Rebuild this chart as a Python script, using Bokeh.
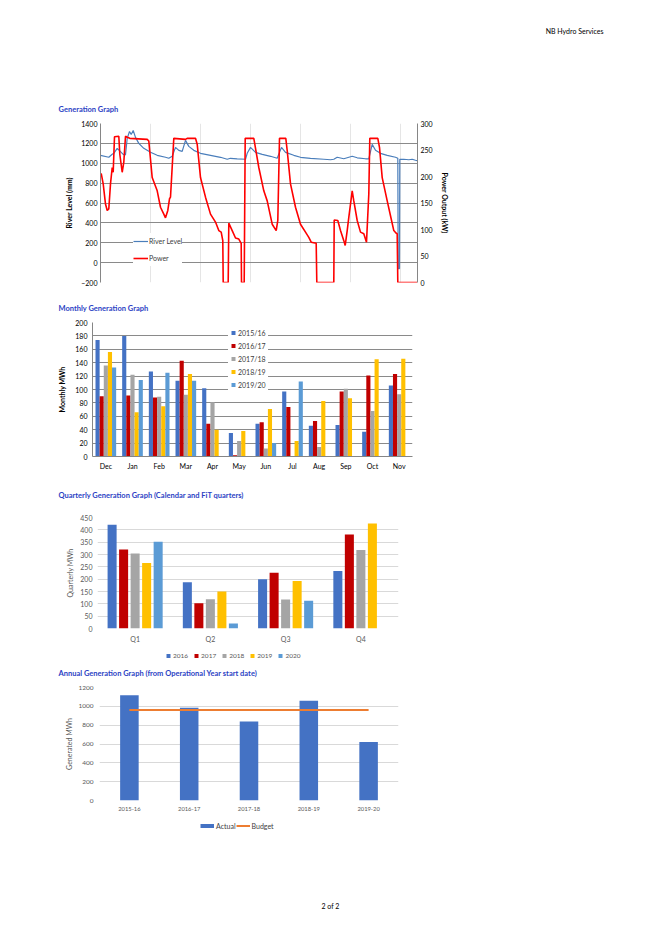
from bokeh.plotting import figure
from bokeh.models import Range1d, LinearAxis, FixedTicker, Legend, LegendItem, ColumnDataSource
from bokeh.layouts import column
from bokeh.transform import dodge
from bokeh.core.properties import value
from bokeh.embed import file_html
from bokeh.resources import INLINE

FONT = "Lato"
TITLE_BLUE = "#2B3FC4"
NAN = float("nan")

# ---------------- Generation graph data ----------------
river_day = [0, 8.3, 11.7, 13.3, 16.7, 22.7, 25, 26.7, 29, 30.7, 32.7, 35, 38.3, 43.3, 50, 56.7,
             65, 68.3, 71.7, 75, 78.3, 81.7, 85, 88.3, 93.3, 100, 110, 120, 126.7, 130, 136.7,
             145, 146.7, 150, 155, 161.7, 170, 176.7, 181, 185, 193.3, 200, 210, 223.3, 230,
             233.3, 236.7, 243.3, 251.7, 256.7, 265, 268.3, 271.7, 275, 280, 286.7, 295, 297.3,
             297.7, 299, 299.3, 303.3, 308.3, 311.7, 315, 316.7]
river_mm = [1080, 1060, 1090, 1100, 1150, 1090, 1085, 1250, 1320, 1290, 1330, 1260, 1200, 1150,
            1110, 1080, 1060, 1050, 1070, 1160, 1130, 1120, 1230, 1170, 1130, 1100, 1080, 1060,
            1040, 1050, 1045, 1040, 1100, 1160, 1110, 1090, 1070, 1050, 1160, 1110, 1080, 1060,
            1050, 1040, 1035, 1040, 1060, 1045, 1070, 1055, 1045, 1045, 1190, 1130, 1100, 1080,
            1060, 1050, -60, -60, 1040, 1040, 1035, 1040, 1030, 1025]
power_day = [0.7, 2.7, 5, 6.7, 8.3, 10, 11.7, 12.7, 14, 18.3, 19.3, 21.7, 23.3, 25, 26.7, 29.3,
             46.7, 48.3, 51.7, 56.7, 60, 63.3, 65, 67.3, 69, 70, 73.3, 85, 86.7, 95, 96.7, 100,
             105, 110, 115, 118.3, 120.7, 122.3, 122.7, 127.7, 128.3, 131.7, 135, 138.3, 140.7,
             141, 143.7, 144.7, 153.3, 154.3, 158.3, 163.3, 166.7, 171.7, 175.7, 177.3, 179,
             185.3, 186.7, 190, 195, 200, 205, 208.3, 210.7, 215.7, 216.3, 233.3, 233.7, 237.3,
             240, 243.3, 244.7, 246.7, 248.3, 250, 251.7, 253.3, 256.7, 260, 263.3, 266, 268.3,
             269.3, 277.3, 279, 281.7, 286.7, 290, 293.3, 295.7, 296.7, 297.3, 316.7]
power_kw = [206, 186, 148, 136, 139, 186, 217, 208, 275, 276, 242, 208, 227, 276, 274, 272,
            270, 267, 198, 173, 142, 129, 122, 136, 158, 161, 272, 270, 272, 272, 261, 198,
            161, 129, 114, 98, 95, 79, 0, 0, 112, 98, 84, 82, 74,
            0, 0, 272, 272, 261, 217, 173, 154, 110, 98, 117, 272,
            272, 249, 186, 142, 110, 95, 85, 76, 74, 0, 0, 118, 117,
            98, 79, 70, 98, 123, 148, 173, 154, 117, 95, 92, 76, 167,
            272, 272, 255, 198, 154, 126, 98, 93, 92, 0, 0]
level_ticks = [-200, 0, 200, 400, 600, 800, 1000, 1200, 1400]
power_ticks = [0, 50, 100, 150, 200, 250, 300]

# ---------------- Monthly data ----------------
months = ["Dec", "Jan", "Feb", "Mar", "Apr", "May", "Jun", "Jul", "Aug", "Sep", "Oct", "Nov"]
monthly_names = ["2015/16", "2016/17", "2017/18", "2018/19", "2019/20"]
m_2015_16 = [174, 180, 127, 113, 102, 35, 49, 97, 46, 47, 37, 106]
m_2016_17 = [90, 91, 88, 143, 49, 2, 51, 74, 53, 97, 121, 123]
m_2017_18 = [136, 122, 89, 92, 81, 23, 12, 0, 14, 101, 68, 93]
m_2018_19 = [156, 66, 75, 123, 40, 38, 71, 23, 83, 87, 145, 146]
m_2019_20 = [133, 114, 125, 113, 0, 0, 20, 112, 0, 0, 0, 0]
monthly_ticks = [0, 20, 40, 60, 80, 100, 120, 140, 160, 180, 200]

# ---------------- Quarterly data ----------------
quarters = ["Q1", "Q2", "Q3", "Q4"]
quarter_names = ["2016", "2017", "2018", "2019", "2020"]
q_2016 = [421, 188, 200, 233]
q_2017 = [320, 102, 226, 381]
q_2018 = [304, 119, 118, 318]
q_2019 = [266, 150, 193, 426]
q_2020 = [352, 20, 112, 0]
quarterly_ticks = [0, 50, 100, 150, 200, 250, 300, 350, 400, 450]

# ---------------- Annual data ----------------
annual_years = ["2015-16", "2016-17", "2017-18", "2018-19", "2019-20"]
annual_actual = [1119, 985, 840, 1059, 621]
annual_budget = [960, 960, 960, 960, 960]
annual_ticks = [0, 200, 400, 600, 800, 1000, 1200]

series_colors = ["#4472C4", "#C00000", "#A5A5A5", "#FFC000", "#5B9BD5"]
W = 643


def strip(h, y_down=True):
    yr = Range1d(h, 0) if y_down else Range1d(0, h)
    p = figure(width=W, height=h, x_range=Range1d(0, W), y_range=yr,
               output_backend="svg", toolbar_location=None,
               x_axis_location=None, y_axis_location=None, min_border=0, frame_align=False)
    p.outline_line_color = None
    p.border_fill_color = "white"
    for g in p.grid:
        g.visible = False
    return p


def text_strip(h, items):
    p = strip(h)
    for (x, y, t, size, style, color, align) in items:
        p.text(x=[x], y=[y], text=[t], text_font=value(FONT), text_font_size=size,
               text_font_style=style, text_color=color, text_align=align,
               text_baseline="middle")
    return p


def style_y(ax, label_color, line_color, bold, label_standoff, axis_standoff, size="7px"):
    ax.major_label_text_font = FONT
    ax.major_label_text_font_size = size
    ax.major_label_text_color = label_color
    ax.axis_label_text_font = FONT
    ax.axis_label_text_font_size = "7px"
    ax.axis_label_text_font_style = "bold" if bold else "normal"
    ax.axis_label_text_color = label_color
    ax.axis_line_color = line_color
    ax.major_tick_line_color = None
    ax.minor_tick_line_color = None
    ax.major_tick_out = 0
    ax.major_tick_in = 0
    ax.major_label_standoff = label_standoff
    ax.axis_label_standoff = axis_standoff


def style_x(ax, label_color, line_color, standoff, size="7px"):
    ax.major_label_text_font = FONT
    ax.major_label_text_font_size = size
    ax.major_label_text_color = label_color
    ax.axis_line_color = line_color
    ax.major_tick_line_color = None
    ax.minor_tick_line_color = None
    ax.major_tick_out = 0
    ax.major_label_standoff = standoff


def base_fig(h, x_range, y_range, left, right, top, bottom, **kw):
    p = figure(width=W, height=h, x_range=x_range, y_range=y_range,
               output_backend="svg", toolbar_location=None, frame_align=False,
               min_border_left=left, min_border_right=right,
               min_border_top=top, min_border_bottom=bottom, **kw)
    p.outline_line_color = None
    p.border_fill_color = "white"
    return p


# ---------------- header ----------------
header = text_strip(100, [(603, 30, "NB Hydro Services", "7px", "normal", "#000000", "right")])

# ---------------- Chart 1 ----------------
t1 = text_strip(17, [(58, 9, "Generation Graph", "7.5px", "bold", TITLE_BLUE, "left")])
p1 = base_fig(183, Range1d(0, 317), Range1d(-200, 1400), 100, 226, 6, 18, x_axis_location=None)
p1.extra_y_ranges = {"power": Range1d(0, 300)}
p1.yaxis.ticker = FixedTicker(ticks=level_ticks)
p1.yaxis.axis_label = "River Level (mm)"
style_y(p1.yaxis[0], "#000000", "#868686", True, 3, 5)
p1.ygrid.grid_line_color = "#8A8A8A"
ax_r = LinearAxis(y_range_name="power", ticker=FixedTicker(ticks=power_ticks),
                  axis_label="Power Output (kW)")
style_y(ax_r, "#000000", "#868686", True, 3, 5)
p1.add_layout(ax_r, "right")
r_river = p1.line(river_day, river_mm, line_color="#4A7EBB", line_width=1.2)
r_power = p1.line(power_day, power_kw, y_range_name="power", line_color="#FF0000", line_width=1.6)
leg1 = Legend(items=[LegendItem(label="River Level", renderers=[r_river]),
                     LegendItem(label="Power", renderers=[r_power])],
              location=(33, 16), padding=10, margin=0, glyph_width=15, glyph_height=16,
              label_height=16, spacing=1, label_standoff=1, border_line_color=None,
              background_fill_color="white", background_fill_alpha=1.0,
              label_text_font=FONT, label_text_font_size="7px", label_text_color="#404040")
p1.add_layout(leg1)

# ---------------- Chart 2 ----------------
t2 = text_strip(16, [(58, 8, "Monthly Generation Graph", "7.5px", "bold", TITLE_BLUE, "left")])
p2 = base_fig(169, months, Range1d(0, 200), 92, 231, 6, 29)
p2.yaxis.ticker = FixedTicker(ticks=monthly_ticks)
p2.yaxis.axis_label = "Monthly MWh"
style_y(p2.yaxis[0], "#000000", "#868686", True, 5, 6)
style_x(p2.xaxis[0], "#000000", "#868686", 5)
p2.xgrid.visible = False
p2.ygrid.grid_line_color = "#8A8A8A"
m_offsets = [-0.31, -0.155, 0, 0.155, 0.31]
m_items = []
for name, vals, col, off in zip(monthly_names, [m_2015_16, m_2016_17, m_2017_18, m_2018_19, m_2019_20],
                                series_colors, m_offsets):
    src = ColumnDataSource(dict(month=months, v=vals))
    p2.vbar(x=dodge("month", off, range=p2.x_range), top="v", width=0.155, source=src,
            fill_color=col, line_color=None)
    key = p2.scatter(x=[months[0]], y=[NAN], marker="square", fill_color=col, line_color=None)
    m_items.append(LegendItem(label=name, renderers=[key]))
leg2 = Legend(items=m_items, location=(136, 65), padding=0, margin=0, glyph_width=10,
              glyph_height=13, label_height=13, label_width=30, spacing=0, label_standoff=0,
              border_line_color=None, background_fill_color="white", background_fill_alpha=1.0,
              label_text_font=FONT, label_text_font_size="7px", label_text_color="#404040")
p2.add_layout(leg2)

# ---------------- Chart 3 ----------------
t3 = text_strip(18, [(58, 10, "Quarterly Generation Graph (Calendar and FiT quarters)", "7.5px",
                      "bold", TITLE_BLUE, "left")])
p3 = base_fig(142, quarters, Range1d(0, 450), 97, 245, 14, 15)
p3.yaxis.ticker = FixedTicker(ticks=quarterly_ticks)
p3.yaxis.axis_label = "Quarterly MWh"
style_y(p3.yaxis[0], "#595959", None, False, 5, 3)
style_x(p3.xaxis[0], "#595959", None, 6)
p3.xgrid.visible = False
p3.ygrid.grid_line_color = "#D9D9D9"
q_offsets = [-0.306, -0.153, 0, 0.153, 0.306]
l3 = strip(20, y_down=False)
q_items = []
for name, vals, col, off in zip(quarter_names, [q_2016, q_2017, q_2018, q_2019, q_2020],
                                series_colors, q_offsets):
    src = ColumnDataSource(dict(q=quarters, v=vals))
    p3.vbar(x=dodge("q", off, range=p3.x_range), top="v", width=0.12, source=src,
            fill_color=col, line_color=None)
    key = l3.scatter(x=[NAN], y=[NAN], marker="square", fill_color=col, line_color=None)
    q_items.append(LegendItem(label=name, renderers=[key]))
leg3 = Legend(items=q_items, location=(163, 4.5), orientation="horizontal", padding=0, margin=0,
              glyph_width=10, glyph_height=11, label_height=11, label_width=0, spacing=3,
              label_standoff=0, border_line_color=None, background_fill_alpha=0.0,
              label_text_font=FONT, label_text_font_size="6.5px", label_text_color="#595959")
l3.add_layout(leg3)

# ---------------- Chart 4 ----------------
t4 = text_strip(17, [(58, 8, "Annual Generation Graph (from Operational Year start date)", "7.5px",
                      "bold", TITLE_BLUE, "left")])
p4 = base_fig(135, annual_years, Range1d(0, 1200), 99, 245, 5, 17)
p4.yaxis.ticker = FixedTicker(ticks=annual_ticks)
p4.yaxis.axis_label = "Generated MWh"
style_y(p4.yaxis[0], "#595959", None, False, 6, 2, size="6.5px")
style_x(p4.xaxis[0], "#595959", None, 6, size="5.8px")
p4.xgrid.visible = False
p4.ygrid.grid_line_color = "#D9D9D9"
src4 = ColumnDataSource(dict(year=annual_years, actual=annual_actual, budget=annual_budget))
p4.vbar(x="year", top="actual", width=0.31, source=src4, fill_color="#4472C4", line_color=None)
p4.line(x="year", y="budget", source=src4, line_color="#ED7D31", line_width=2)
l4 = strip(23, y_down=False)
k_actual = l4.line(x=[NAN, NAN], y=[NAN, NAN], line_color="#4472C4", line_width=4)
k_budget = l4.line(x=[NAN, NAN], y=[NAN, NAN], line_color="#ED7D31", line_width=2)
leg4 = Legend(items=[LegendItem(label="Actual", renderers=[k_actual]),
                     LegendItem(label="Budget", renderers=[k_budget])],
              location=(200, 9), orientation="horizontal", padding=0, margin=0,
              glyph_width=14, glyph_height=11, label_height=11, label_width=0, spacing=0,
              label_standoff=2, border_line_color=None, background_fill_alpha=0.0,
              label_text_font=FONT, label_text_font_size="7px", label_text_color="#404040")
l4.add_layout(leg4)

# ---------------- footer ----------------
footer = text_strip(85, [(330, 65, "2 of 2", "7px", "normal", "#000000", "center")])

layout = column(header, t1, p1, t2, p2, t3, p3, l3, t4, p4, l4, footer, spacing=0)
open("out.html", "w").write(file_html(layout, INLINE))
